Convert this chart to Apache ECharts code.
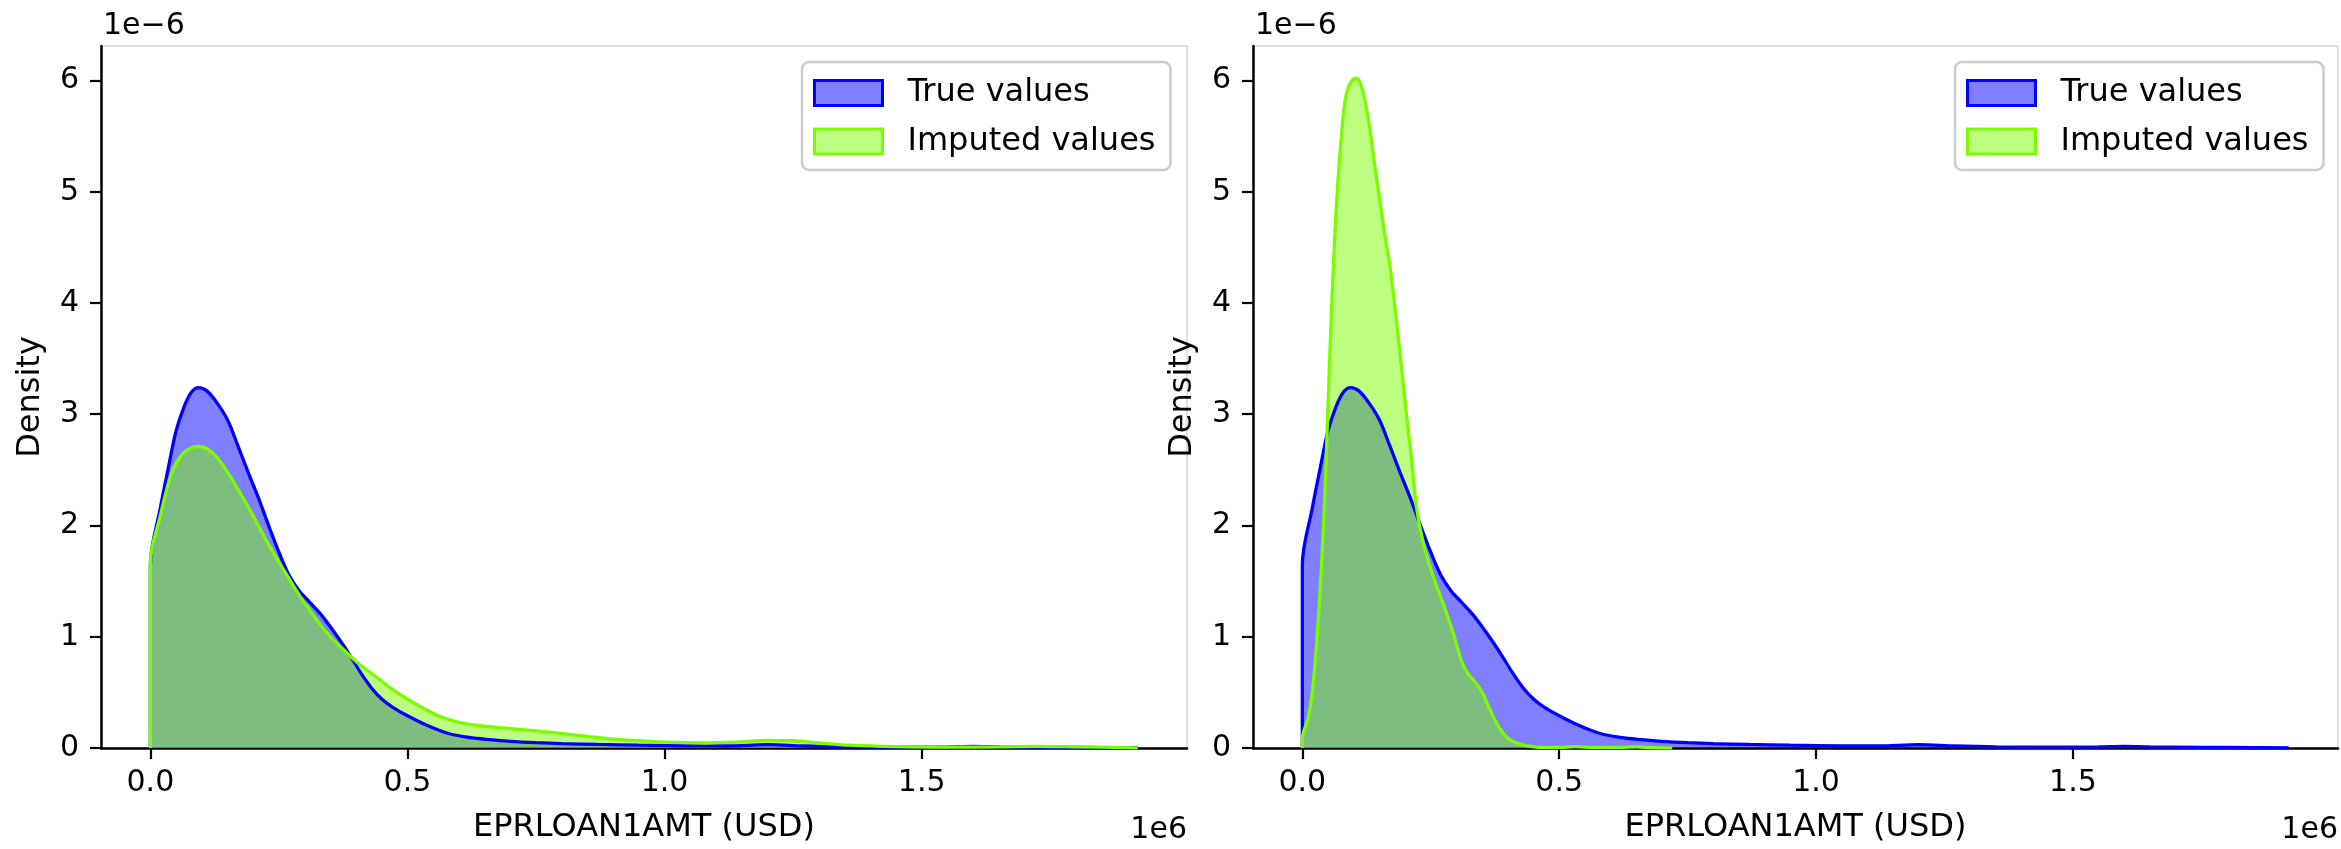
<!DOCTYPE html>
<html>
<head>
<meta charset="utf-8">
<title>EPRLOAN1AMT density</title>
<script src="https://cdn.jsdelivr.net/npm/echarts@6/dist/echarts.min.js"></script>
<style>
  html, body { margin: 0; padding: 0; background: #ffffff; }
  #chart { width: 2341px; height: 849px; }
</style>
</head>
<body>
<div id="chart"></div>
<script>
// Amounts are in units of 1e6 USD, densities in units of 1e-6 (the axis offsets).

// True values (same curve in both panels)
const TRUE_X = [0, 0, 0.02, 0.035, 0.05, 0.065, 0.08, 0.094, 0.11, 0.13, 0.15, 0.17, 0.19, 0.21,
  0.23, 0.25, 0.27, 0.29, 0.31, 0.33, 0.35, 0.37, 0.39, 0.41, 0.43, 0.45, 0.47, 0.5, 0.54, 0.58,
  0.62, 0.66, 0.7, 0.75, 0.8, 0.87, 0.95, 1.05, 1.12, 1.2, 1.27, 1.35, 1.45, 1.55, 1.6, 1.65,
  1.75, 1.85, 1.92];
const TRUE_Y = [0, 1.64, 2.17, 2.52, 2.85, 3.06, 3.2, 3.24, 3.21, 3.1, 2.95, 2.72, 2.48, 2.25,
  2.0, 1.76, 1.55, 1.41, 1.31, 1.21, 1.09, 0.96, 0.82, 0.67, 0.54, 0.44, 0.37, 0.29, 0.2, 0.13,
  0.095, 0.075, 0.06, 0.048, 0.04, 0.032, 0.025, 0.02, 0.018, 0.03, 0.018, 0.01, 0.008, 0.01, 0.015, 0.01,
  0.005, 0.004, 0];

// Imputed values, left panel
const IMP_A_X = [0, 0, 0.02, 0.04, 0.06, 0.08, 0.095, 0.11, 0.13, 0.15, 0.17, 0.19, 0.21, 0.23,
  0.25, 0.27, 0.29, 0.31, 0.33, 0.35, 0.37, 0.39, 0.41, 0.43, 0.45, 0.47, 0.5, 0.53, 0.56, 0.6,
  0.64, 0.7, 0.78, 0.85, 0.9, 0.95, 1.0, 1.08, 1.15, 1.2, 1.25, 1.3, 1.36, 1.45, 1.55, 1.65,
  1.72, 1.8, 1.9, 1.92];
const IMP_A_Y = [0, 1.66, 2.1, 2.45, 2.63, 2.7, 2.71, 2.69, 2.61, 2.48, 2.33, 2.17, 2.0, 1.83,
  1.67, 1.52, 1.37, 1.24, 1.11, 1.0, 0.91, 0.82, 0.74, 0.67, 0.6, 0.53, 0.44, 0.36, 0.29, 0.23,
  0.2, 0.175, 0.14, 0.105, 0.08, 0.065, 0.052, 0.045, 0.055, 0.068, 0.065, 0.045, 0.025, 0.012, 0.008, 0.01,
  0.014, 0.01, 0.004, 0];

// Imputed values, right panel
const IMP_B_X = [0, 0, 0.012, 0.021, 0.031, 0.041, 0.049, 0.057, 0.067, 0.077, 0.086, 0.097, 0.106,
  0.114, 0.122, 0.132, 0.142, 0.151, 0.161, 0.171, 0.184, 0.194, 0.203, 0.213, 0.222, 0.235, 0.255,
  0.274, 0.294, 0.31, 0.322, 0.335, 0.35, 0.362, 0.375, 0.39, 0.405, 0.43, 0.46, 0.5, 0.53, 0.57,
  0.62, 0.65, 0.68, 0.72];
const IMP_B_Y = [0, 0.08, 0.28, 0.57, 1.15, 1.97, 2.94, 3.96, 4.92, 5.55, 5.89, 6.0, 6.02,
  5.96, 5.82, 5.55, 5.2, 4.92, 4.6, 4.32, 3.81, 3.38, 2.99, 2.58, 2.17, 1.85, 1.54,
  1.3, 1.03, 0.78, 0.67, 0.6, 0.5, 0.38, 0.25, 0.14, 0.07, 0.025, 0.006, 0.006, 0.012, 0.005,
  0.006, 0.01, 0.004, 0];

const X_TICKS = [0, 0.5, 1.0, 1.5];
const Y_TICKS = [0, 1, 2, 3, 4, 5, 6];
const X_RANGE = [-0.096, 2.016];
const Y_RANGE = [0, 6.31];
const X_NAME = 'EPRLOAN1AMT (USD)';
const Y_NAME = 'Density';
const X_OFFSET_TEXT = '1e6';
const Y_OFFSET_TEXT = '1e\u22126';
const SERIES_NAMES = ['True values', 'Imputed values'];

const FONT = 'DejaVu Sans';
const BLUE = '#0000ff';
const BLUE_FILL = 'rgba(0,0,255,0.5)';
const GREEN = '#7cfc00';
const GREEN_FILL = 'rgba(124,252,0,0.5)';

const GRIDS = [
  { left: 101, top: 46, width: 1086, height: 705 },
  { left: 1253, top: 46, width: 1085, height: 705 }
];
const LEGEND_LEFT = [802, 1955];

function pairs(xs, ys) { return xs.map((x, i) => [x, ys[i]]); }

function xAxis(i) {
  return {
    type: 'value', gridIndex: i, min: X_RANGE[0], max: X_RANGE[1],
    name: X_NAME, nameLocation: 'middle', nameGap: 64,
    nameTextStyle: { fontFamily: FONT, fontSize: 32, color: '#000' },
    axisLine: { show: true, onZero: false, lineStyle: { color: '#000', width: 2.5 } },
    axisTick: { show: true, customValues: X_TICKS, length: 11, lineStyle: { color: '#000', width: 2.2 } },
    axisLabel: { show: true, customValues: X_TICKS, formatter: v => v.toFixed(1), margin: 20,
      fontFamily: FONT, fontSize: 30, color: '#000' },
    splitLine: { show: false }
  };
}

function yAxis(i) {
  return {
    type: 'value', gridIndex: i, min: Y_RANGE[0], max: Y_RANGE[1],
    name: Y_NAME, nameLocation: 'middle', nameGap: 54,
    nameTextStyle: { fontFamily: FONT, fontSize: 32, color: '#000' },
    axisLine: { show: true, onZero: false, lineStyle: { color: '#000', width: 2.5 } },
    axisTick: { show: true, customValues: Y_TICKS, length: 11, lineStyle: { color: '#000', width: 2.2 } },
    axisLabel: { show: true, customValues: Y_TICKS, formatter: v => String(v), margin: 22,
      fontFamily: FONT, fontSize: 30, color: '#000' },
    splitLine: { show: false }
  };
}

function kde(name, xs, ys, line, fill, i) {
  return {
    type: 'line', name, xAxisIndex: i, yAxisIndex: i,
    data: pairs(xs, ys), symbol: 'none', showSymbol: false, smooth: 0.35,
    lineStyle: { color: line, width: 3.3 }, itemStyle: { color: line },
    areaStyle: { color: fill, opacity: 1 }, silent: true, animation: false
  };
}

function legend(i) {
  return {
    orient: 'vertical', left: LEGEND_LEFT[i], top: 62, selectedMode: false,
    itemWidth: 68, itemHeight: 25, itemGap: 16.5,
    backgroundColor: '#ffffff', borderColor: '#cccccc', borderWidth: 2.5, borderRadius: 7,
    padding: [15, 15, 12.5, 11],
    textStyle: { fontFamily: FONT, fontSize: 32, color: '#000', padding: [0, 0, 0, 20] },
    data: [
      { name: SERIES_NAMES[0], icon: 'rect', itemStyle: { color: BLUE_FILL, borderColor: BLUE, borderWidth: 3 } },
      { name: SERIES_NAMES[1], icon: 'rect', itemStyle: { color: GREEN_FILL, borderColor: GREEN, borderWidth: 3 } }
    ]
  };
}

function offsetTexts(i) {
  const g = GRIDS[i];
  return [
    { type: 'text', x: g.left + 2, y: 26,
      style: { text: Y_OFFSET_TEXT, fill: '#000', fontFamily: FONT, fontSize: 30,
        align: 'left', verticalAlign: 'middle', textAlign: 'left', textVerticalAlign: 'middle' } },
    { type: 'text', x: g.left + g.width, y: 830,
      style: { text: X_OFFSET_TEXT, fill: '#000', fontFamily: FONT, fontSize: 30,
        align: 'right', verticalAlign: 'middle', textAlign: 'right', textVerticalAlign: 'middle' } }
  ];
}

const chart = echarts.init(document.getElementById('chart'), null, { renderer: 'canvas' });
chart.setOption({
  animation: false,
  backgroundColor: '#ffffff',
  grid: GRIDS.map(g => Object.assign({ show: true, borderColor: '#d6d6d6', borderWidth: 1.5,
    backgroundColor: 'transparent', containLabel: false }, g)),
  xAxis: [xAxis(0), xAxis(1)],
  yAxis: [yAxis(0), yAxis(1)],
  legend: [legend(0), legend(1)],
  series: [
    kde(SERIES_NAMES[0], TRUE_X, TRUE_Y, BLUE, BLUE_FILL, 0),
    kde(SERIES_NAMES[1], IMP_A_X, IMP_A_Y, GREEN, GREEN_FILL, 0),
    kde(SERIES_NAMES[0], TRUE_X, TRUE_Y, BLUE, BLUE_FILL, 1),
    kde(SERIES_NAMES[1], IMP_B_X, IMP_B_Y, GREEN, GREEN_FILL, 1)
  ],
  graphic: offsetTexts(0).concat(offsetTexts(1))
});
</script>
</body>
</html>
